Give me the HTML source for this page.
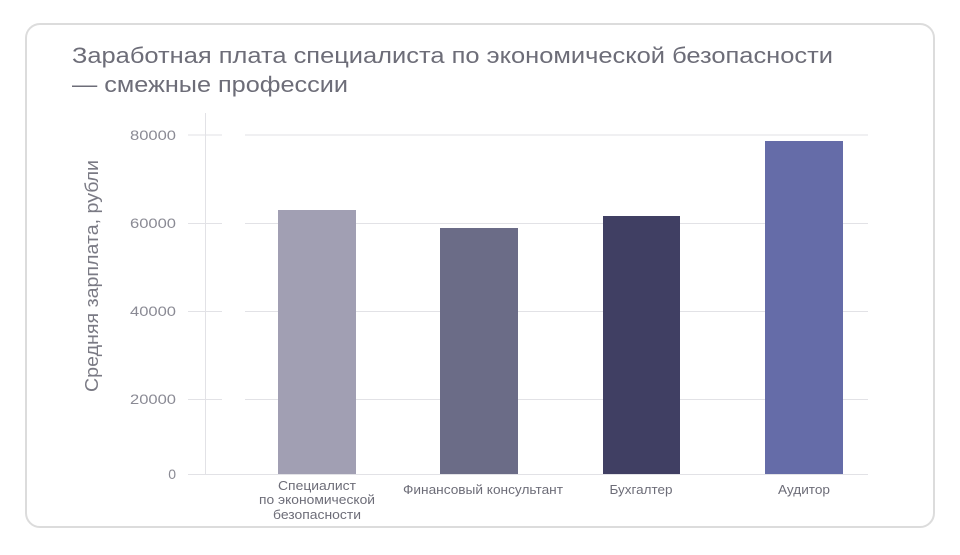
<!DOCTYPE html>
<html><head><meta charset="utf-8"><style>
body{margin:0;width:960px;height:550px;background:#fff;font-family:"Liberation Sans",sans-serif;}
</style></head><body>
<svg width="960" height="550" xmlns="http://www.w3.org/2000/svg" font-family="Liberation Sans, sans-serif">
<rect x="26" y="24" width="908" height="503" rx="14" fill="#fff" stroke="#dcdcdc" stroke-width="2"/>
<text x="72" y="63" font-size="22" fill="#6d6d78" textLength="761" lengthAdjust="spacingAndGlyphs">Заработная плата специалиста по экономической безопасности</text>
<text x="72" y="92" font-size="22" fill="#6d6d78" textLength="276" lengthAdjust="spacingAndGlyphs">— смежные профессии</text>
<g stroke="#e2e2e6" stroke-width="1">
<line x1="188" y1="135" x2="222" y2="135"/><line x1="245" y1="135" x2="868" y2="135"/>
<line x1="188" y1="223.5" x2="222" y2="223.5"/><line x1="245" y1="223.5" x2="868" y2="223.5"/>
<line x1="188" y1="311.5" x2="222" y2="311.5"/><line x1="245" y1="311.5" x2="868" y2="311.5"/>
<line x1="188" y1="399.5" x2="222" y2="399.5"/><line x1="245" y1="399.5" x2="868" y2="399.5"/>
<line x1="188" y1="474.5" x2="868" y2="474.5"/>
<line x1="205.5" y1="113" x2="205.5" y2="474"/>
</g>
<g font-size="14" fill="#8a8a94">
<text x="130" y="140" textLength="46" lengthAdjust="spacingAndGlyphs">80000</text>
<text x="130" y="228" textLength="46" lengthAdjust="spacingAndGlyphs">60000</text>
<text x="130" y="316" textLength="46" lengthAdjust="spacingAndGlyphs">40000</text>
<text x="130" y="404" textLength="46" lengthAdjust="spacingAndGlyphs">20000</text>
<text x="176" y="479" text-anchor="end">0</text>
</g>
<text transform="translate(98,276) rotate(-90)" font-size="18" fill="#7a7a84" text-anchor="middle" textLength="232" lengthAdjust="spacingAndGlyphs">Средняя зарплата, рубли</text>
<rect x="278" y="210" width="78" height="264" fill="#a19fb3"/>
<rect x="440" y="228" width="78" height="246" fill="#6b6c87"/>
<rect x="603" y="216" width="77" height="258" fill="#403f63"/>
<rect x="765" y="141" width="78" height="333" fill="#656ca8"/>
<g font-size="12.5" fill="#6d6d78" text-anchor="middle">
<text x="317" y="490" textLength="78" lengthAdjust="spacingAndGlyphs">Специалист</text>
<text x="317" y="504" textLength="116" lengthAdjust="spacingAndGlyphs">по экономической</text>
<text x="317" y="519" textLength="88" lengthAdjust="spacingAndGlyphs">безопасности</text>
<text x="483" y="494" textLength="160" lengthAdjust="spacingAndGlyphs">Финансовый консультант</text>
<text x="641" y="494" textLength="63" lengthAdjust="spacingAndGlyphs">Бухгалтер</text>
<text x="804" y="494" textLength="52" lengthAdjust="spacingAndGlyphs">Аудитор</text>
</g>
</svg>
</body></html>
